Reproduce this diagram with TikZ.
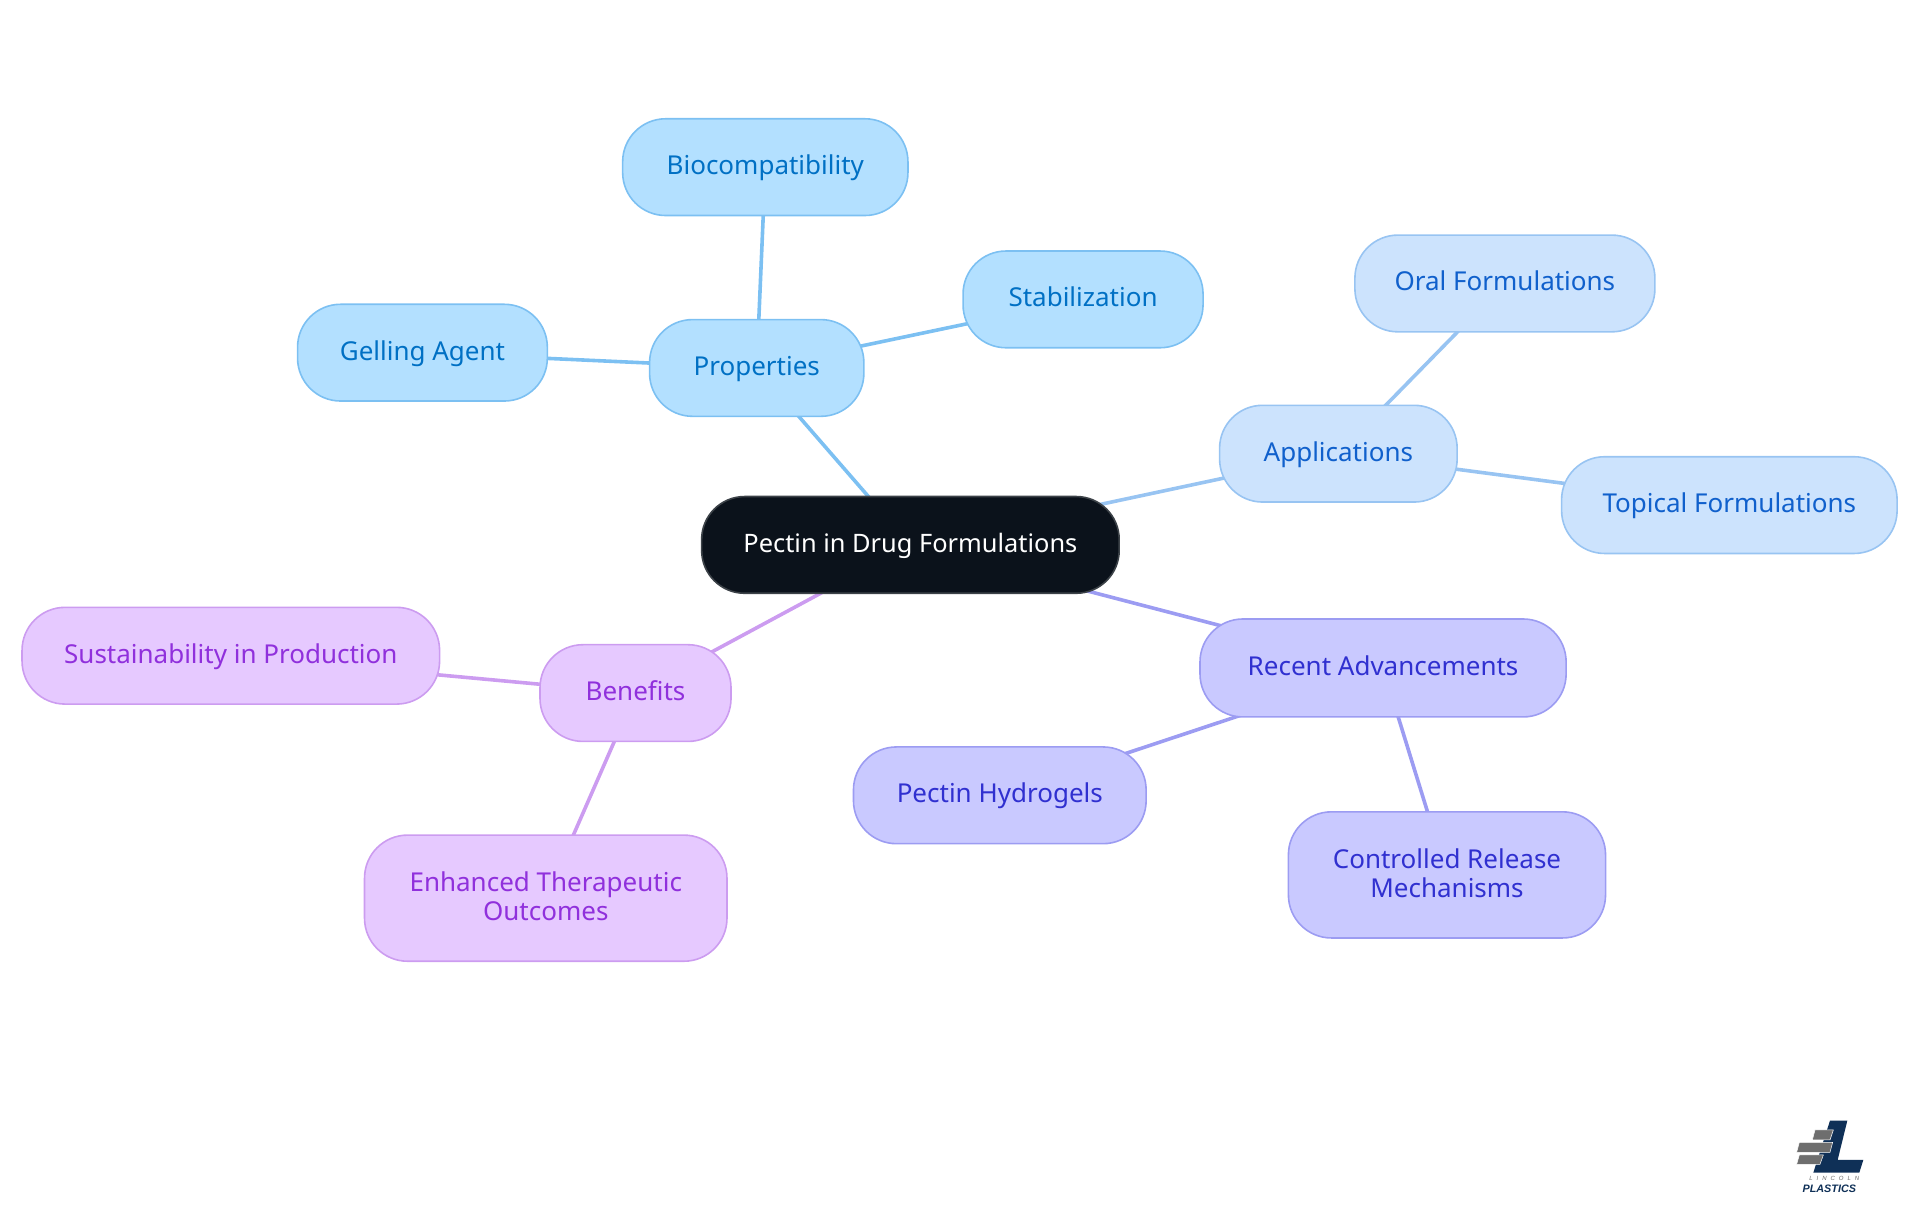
\documentclass[tikz,border=0pt]{standalone}
\usepackage{fontspec}
\setmainfont{Noto Sans}
\newfontfamily\logofont{Liberation Sans}
\usetikzlibrary{backgrounds}
\definecolor{bluefill}{HTML}{B3E0FF}\definecolor{blueline}{HTML}{7CC0F2}\definecolor{bluetext}{HTML}{0070C4}
\definecolor{skyfill}{HTML}{CCE3FD}\definecolor{skyline}{HTML}{98C4F2}\definecolor{skytext}{HTML}{1060CC}
\definecolor{violetfill}{HTML}{C9C9FF}\definecolor{violetline}{HTML}{9C9CF2}\definecolor{violettext}{HTML}{3030D0}
\definecolor{purplefill}{HTML}{E6C9FF}\definecolor{purpleline}{HTML}{CC9CF0}\definecolor{purpletext}{HTML}{9030DC}
\definecolor{rootfill}{HTML}{0B121B}\definecolor{rootline}{HTML}{3C4248}
\definecolor{logonavy}{HTML}{0F3057}\definecolor{logogrey}{HTML}{6E6E6E}
\def\mmdp{7pt}
\tikzset{
  mm/.style={rounded corners=43pt,inner sep=0pt,line width=1.6pt,align=center,
    font=\fontsize{26}{29.4}\selectfont,
    execute at begin node={\rule{0pt}{22pt}},
    execute at end node={\rule[-\mmdp]{0pt}{\mmdp}}},
  twolines/.code={\def\mmdp{4pt}},
  props/.style={mm,draw=blueline,fill=bluefill,text=bluetext},
  apps/.style={mm,draw=skyline,fill=skyfill,text=skytext},
  recent/.style={mm,draw=violetline,fill=violetfill,text=violettext},
  bens/.style={mm,draw=purpleline,fill=purplefill,text=purpletext},
  root/.style={mm,draw=rootline,fill=rootfill,text=white,font=\fontsize{25.4}{29.4}\selectfont},
  edge/.style={line width=3.6pt},
  sz/.style 2 args={minimum width=#1*1.2245pt,minimum height=#2*1.2245pt},
  logobar/.style={fill=logogrey,draw=white,line width=0.5pt}
}
\begin{document}
\begin{tikzpicture}[x=1.2245pt,y=-1.2245pt]
\useasboundingbox (0,0) rectangle (1568,992.2);
\node[root,sz={341}{79}] (c) at (743.5,445) {Pectin in Drug Formulations};
\node[props,sz={175}{79}] (p) at (618,300.5) {Properties};
\node[props,sz={233}{79}] (p1) at (625,136.5) {Biocompatibility};
\node[props,sz={196}{79}] (p2) at (884.5,244.5) {Stabilization};
\node[props,sz={204}{79}] (p3) at (345,288) {Gelling Agent};
\node[apps,sz={194}{79}] (a) at (1093,370.5) {Applications};
\node[apps,sz={245}{79}] (a1) at (1229,231.5) {Oral Formulations};
\node[apps,sz={274}{79}] (a2) at (1412.3,412.5) {Topical Formulations};
\node[recent,sz={299}{80}] (r) at (1129.5,545.5) {Recent Advancements};
\node[recent,sz={239}{79}] (r1) at (816.5,649.5) {Pectin Hydrogels};
\node[recent,twolines,sz={259}{103}] (r2) at (1181.7,714.5) {Controlled Release\\Mechanisms};
\node[bens,sz={156}{79}] (b) at (519,566) {Benefits};
\node[bens,sz={341}{79}] (b1) at (188.5,535.5) {Sustainability in Production};
\node[bens,twolines,sz={296}{103}] (b2) at (445.7,733.5) {Enhanced Therapeutic\\Outcomes};
\begin{scope}[on background layer]
\draw[edge,blueline] (c.center) -- (p.center);
\draw[edge,blueline] (p.center) -- (p1.center);
\draw[edge,blueline] (p.center) -- (p2.center);
\draw[edge,blueline] (p.center) -- (p3.center);
\draw[edge,skyline] (c.center) -- (a.center);
\draw[edge,skyline] (a.center) -- (a1.center);
\draw[edge,skyline] (a.center) -- (a2.center);
\draw[edge,violetline] (c.center) -- (r.center);
\draw[edge,violetline] (r.center) -- (r1.center);
\draw[edge,violetline] (r.center) -- (r2.center);
\draw[edge,purpleline] (c.center) -- (b.center);
\draw[edge,purpleline] (b.center) -- (b1.center);
\draw[edge,purpleline] (b.center) -- (b2.center);
\end{scope}
% logo, drawn in zoom coordinates of the reference
\begin{scope}[x=0.3333pt,y=-0.3333pt,xshift=1770pt,yshift=-1105pt]
\fill[logonavy] (180,47) -- (232,47) -- (203,165) -- (280,165) -- (268,203) -- (130,203) -- cycle;
\path[logobar] (135,75) -- (190,75) -- (180,105) -- (127,105) -- cycle;
\path[logobar] (88,112) -- (188,112) -- (180,142) -- (80,142) -- cycle;
\path[logobar] (88,150) -- (160,150) -- (150,178) -- (80,178) -- cycle;
\node[inner sep=0pt,text=logogrey,font=\logofont\fontsize{6}{7}\selectfont\itshape] (l1) at (193,220) {L\hspace{4pt}I\hspace{4pt}N\hspace{4pt}C\hspace{4pt}O\hspace{4pt}L\hspace{4pt}N};
\node[inner sep=0pt,text=logonavy,font=\logofont\fontsize{10.8}{12}\selectfont\bfseries\itshape] (l2) at (178,250) {PLASTICS};
\end{scope}
\end{tikzpicture}
\end{document}
